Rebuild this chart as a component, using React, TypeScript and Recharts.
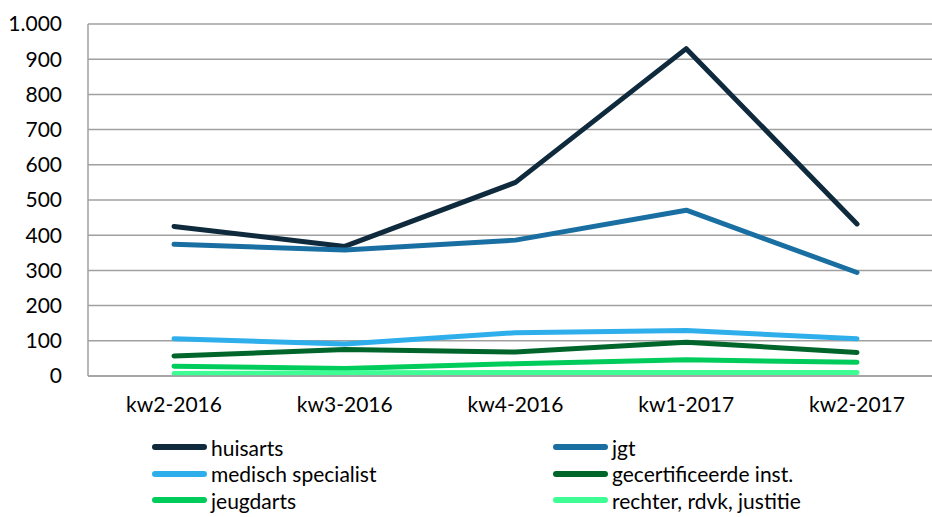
import { LineChart, Line, XAxis, YAxis, CartesianGrid } from 'recharts';

const categories = ['kw2-2016', 'kw3-2016', 'kw4-2016', 'kw1-2017', 'kw2-2017'];

const huisarts = [425, 368, 550, 930, 432];
const jgt = [374, 358, 386, 471, 294];
const medischSpecialist = [106, 91, 123, 129, 106];
const gecertificeerdeInst = [57, 75, 68, 96, 67];
const jeugdarts = [28, 21, 35, 46, 39];
const rechter = [7, 9, 10, 10, 10];

const yTicks = [0, 100, 200, 300, 400, 500, 600, 700, 800, 900, 1000];

const SERIES = [
  { key: 'huisarts', label: 'huisarts', color: '#0e2a3c', values: huisarts },
  { key: 'jgt', label: 'jgt', color: '#1a6fa2', values: jgt },
  { key: 'medisch', label: 'medisch specialist', color: '#2eaeea', values: medischSpecialist },
  { key: 'gecert', label: 'gecertificeerde inst.', color: '#00652b', values: gecertificeerdeInst },
  { key: 'jeugdarts', label: 'jeugdarts', color: '#00cc5c', values: jeugdarts },
  { key: 'rechter', label: 'rechter, rdvk,  justitie', color: '#3dfd94', values: rechter },
];

const data = categories.map((c, i) => {
  const row: Record<string, string | number> = { cat: c };
  for (const s of SERIES) row[s.key] = s.values[i];
  return row;
});

const FONT = 'Lato, "Open Sans", sans-serif';

export default function App() {
  return (
    <div style={{ position: 'absolute', left: 0, top: 0, width: 932, height: 517, overflow: 'hidden', background: '#fff', fontFamily: FONT }}>
      <LineChart width={960} height={430} data={data} margin={{ top: 24, right: 17, left: 0, bottom: 14 }}>
        <CartesianGrid vertical={false} stroke="#a0a0a0" strokeWidth={1.5} />
        <XAxis
          dataKey="cat"
          stroke="#a0a0a0"
          strokeWidth={1.5}
          tickLine={false}
          tickSize={0}
          tickMargin={21}
          height={40}
          padding={{ left: 86, right: 86 }}
          tick={{ fontSize: 21, fill: '#000', fontFamily: FONT }}
        />
        <YAxis
          domain={[0, 1000]}
          ticks={yTicks}
          interval={0}
          width={88}
          stroke="#a0a0a0"
          strokeWidth={1.5}
          tickLine={false}
          tickSize={0}
          tickMargin={26}
          tick={{ fontSize: 21, fill: '#000', fontFamily: FONT }}
          tickFormatter={(v: number) => v.toLocaleString('de-DE')}
        />
        {SERIES.map(s => (
          <Line
            key={s.key}
            dataKey={s.key}
            stroke={s.color}
            strokeWidth={5}
            strokeLinecap="round"
            strokeLinejoin="round"
            dot={false}
            type="linear"
            isAnimationActive={false}
          />
        ))}
      </LineChart>
      <div style={{ position: 'absolute', left: 152, top: 434, width: 780 }}>
        {SERIES.map((s, i) => (
          <div
            key={s.key}
            style={{
              position: 'absolute',
              left: i % 2 === 0 ? 0 : 401,
              top: Math.floor(i / 2) * 26.5,
              display: 'flex',
              alignItems: 'center',
              height: 26,
              whiteSpace: 'nowrap',
              fontSize: 21,
              color: '#000',
            }}
          >
            <span style={{ display: 'inline-block', width: 55, height: 6, borderRadius: 3, background: s.color, marginRight: 4 }} />
            <span>{s.label}</span>
          </div>
        ))}
      </div>
    </div>
  );
}
